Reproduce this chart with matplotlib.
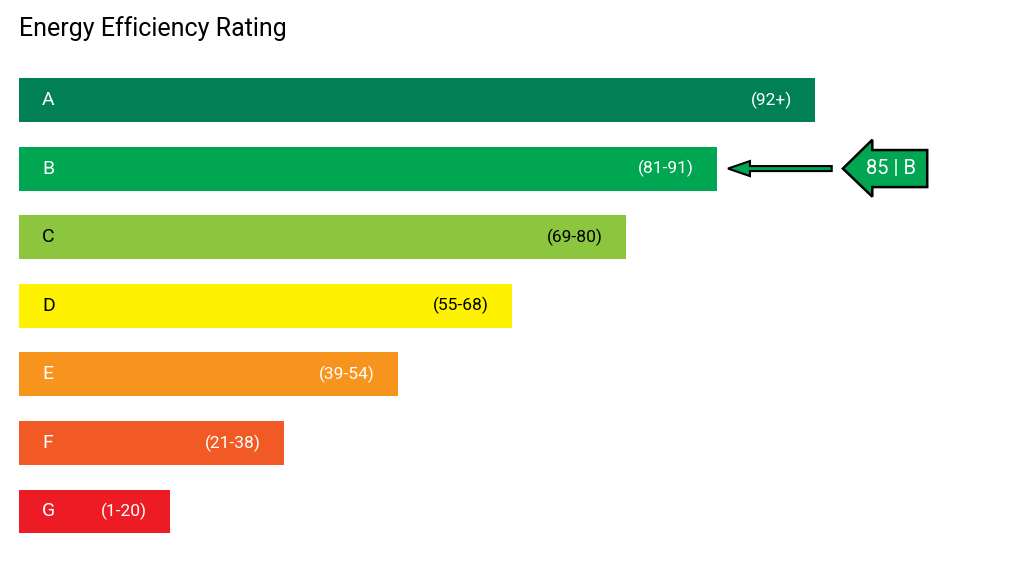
import matplotlib.pyplot as plt
from matplotlib.patches import Polygon

plt.rcParams["font.family"] = ["Roboto", "DejaVu Sans"]

# Dados
bands = ["A", "B", "C", "D", "E", "F", "G"]
ranges = ["(92+)", "(81-91)", "(69-80)", "(55-68)", "(39-54)", "(21-38)", "(1-20)"]
lows = [92, 81, 69, 55, 39, 21, 1]
lengths = [100, 87.7, 76.2, 61.9, 47.6, 33.3, 19.0]
colors = ["#008054", "#00a651", "#8cc63f", "#fff200", "#f7941d", "#f15a24", "#ed1c24"]
text_colors = ["white", "white", "black", "black", "white", "white", "white"]
score = 85

# Figura
fig = plt.figure(figsize=(10.24, 5.76), dpi=100)
ax = fig.add_axes([19 / 1024, 0, 1005 / 1024, 1])
ax.set_xlim(0, 1005 / 7.96)
ax.set_ylim(6.941, -1.458)
ax.axis("off")

ys = list(range(len(bands)))
ax.barh(ys, lengths, height=0.64, color=colors, left=0)

pad = 2.9
for y, b, r, w, tc in zip(ys, bands, ranges, lengths, text_colors):
    ax.text(pad, y, b, color=tc, fontsize=14, va="center", ha="left")
    ax.text(w - pad, y, r, color=tc, fontsize=12.5, va="center", ha="right")

# Indicador da classificação
idx = next(i for i, lo in enumerate(lows) if score >= lo)
yb = ys[idx]
xb = lengths[idx]

ax.arrow(xb + 14.4, yb, -13.03, 0, width=0.073, head_width=0.22, head_length=2.76,
         length_includes_head=True, fc=colors[idx], ec="black", lw=1.5)

tip = xb + 15.8
head = tip + 3.7
right = tip + 10.6
verts = [(tip, yb), (head, yb - 0.42), (head, yb - 0.27), (right, yb - 0.27),
         (right, yb + 0.27), (head, yb + 0.27), (head, yb + 0.41)]
ax.add_patch(Polygon(verts, closed=True, fc=colors[idx], ec="black", lw=1.8))
ax.text(tip + 6.0, yb, f"{score} | {bands[idx]}", color="white", fontsize=14.5,
        va="center", ha="center")

fig.text(19 / 1024, 1 - 29 / 576, "Energy Efficiency Rating", fontsize=18,
         va="center", ha="left")

fig.savefig("out.png", dpi=100)
